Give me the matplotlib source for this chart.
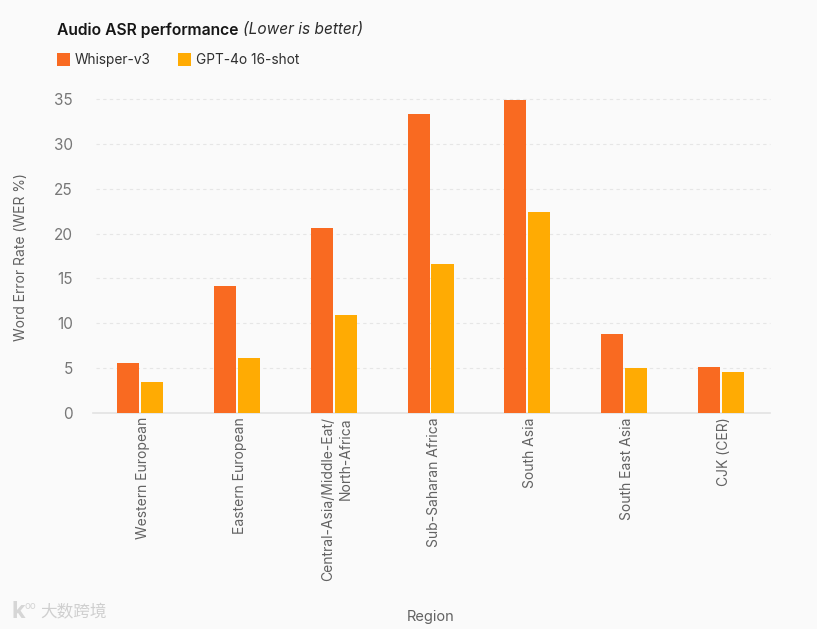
import matplotlib
matplotlib.use("Agg")
import matplotlib.pyplot as plt
import matplotlib.transforms as mtrans
import numpy as np

regions = ["Western European", "Eastern European", "Central-Asia/Middle-Eat/\nNorth-Africa",
           "Sub-Saharan Africa", "South Asia", "South East Asia", "CJK (CER)"]
whisper = [5.6, 14.2, 20.6, 33.3, 34.9, 8.8, 5.1]
gpt4o = [3.4, 6.1, 10.9, 16.6, 22.4, 5.0, 4.6]
yticks = [0, 5, 10, 15, 20, 25, 30, 35]

W, H = 817, 629
BG = "#fafafa"
plt.rcParams["font.family"] = ["Inter", "DejaVu Sans"]

fig = plt.figure(figsize=(W / 100, H / 100), dpi=100, facecolor=BG)
ax = fig.add_axes([93 / W, 1 - 413 / H, (770 - 93) / W, (413 - 99) / H], facecolor=BG)

x = np.arange(len(regions))
width = 0.228
off = 0.124
ax.bar(x - off, whisper, width, color="#f96a21", zorder=3)
ax.bar(x + off, gpt4o, width, color="#ffab03", zorder=3)

ax.set_xlim(-0.49, 6.51)
ax.set_ylim(0, 35)
ax.set_yticks(yticks)
ax.set_xticks(x)
ax.set_xticklabels(regions, rotation=90, ha="center", va="top", fontsize=10,
                   color="#626262", multialignment="right", linespacing=1.3)
ax.tick_params(axis="x", length=0, pad=3)
ax.tick_params(axis="y", length=0, pad=14.5, labelsize=11, labelcolor="#777777")
# labels sit a few pixels right of the group centre
shift = mtrans.ScaledTranslation(3 / 100, 0, fig.dpi_scale_trans)
for lab in ax.get_xticklabels():
    lab.set_transform(lab.get_transform() + shift)
# dashed lines start a little right of the baseline
ax.hlines(yticks[1:], -0.455, 6.51, color="#e6e6e6", linestyle=(0, (3, 3)), linewidth=0.8, zorder=0, clip_on=False)
for s in ["top", "right", "left"]:
    ax.spines[s].set_visible(False)
ax.spines["bottom"].set_color("#e2e2e2")
ax.spines["bottom"].set_linewidth(1.2)

fig.text(21 / W, 1 - 257 / H, "Word Error Rate (WER %)", rotation=90, ha="center", va="center",
         fontsize=10, color="#626262")
fig.text(430.5 / W, 1 - 617 / H, "Region", ha="center", va="center", fontsize=10.5, color="#626262")

# title, two styles side by side
fig.text(57 / W, 1 - 30 / H, "Audio ASR performance", ha="left", va="center", fontsize=11.3,
         fontweight="semibold", color="#161616")
fig.text(243 / W, 1 - 30 / H, "(Lower is better)", ha="left", va="center", fontsize=11.1,
         style="italic", color="#2c2c2c")

# legend
for px, color, label in [(57, "#f96a21", "Whisper-v3"), (178, "#ffab03", "GPT-4o 16-shot")]:
    fig.patches.append(plt.Rectangle((px / W, 1 - 66 / H), 13 / W, 13 / H, transform=fig.transFigure,
                                     facecolor=color, edgecolor="none"))
    fig.text((px + 17.5) / W, 1 - 60 / H, label, ha="left", va="center", fontsize=9.85, color="#2f2f2f")

# watermark
fig.text(40 / W, 1 - 613 / H, "大数跨境", family=["Noto Sans CJK SC", "DejaVu Sans"], ha="left", va="center",
         fontsize=12, color="#cfcfcf")
fig.text(18 / W, 1 - 612 / H, "k", ha="center", va="center", fontsize=17, fontweight="bold", color="#d6d6d6")
fig.text(30 / W, 1 - 606 / H, "oo", ha="center", va="center", fontsize=7, color="#d6d6d6")

fig.savefig("out.png", dpi=100, facecolor=BG)
